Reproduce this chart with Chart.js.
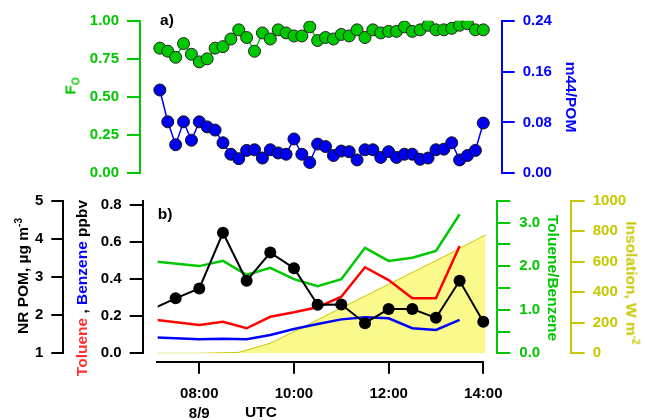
<!DOCTYPE html>
<html>
<head>
<meta charset="utf-8">
<script src="https://cdn.jsdelivr.net/npm/chart.js@4/dist/chart.umd.min.js"></script>
<style>
  body { margin: 0; background: #fff; }
  #wrap { position: relative; width: 645px; height: 420px; }
  #wrap canvas { position: absolute; left: 0; top: 0; }
  .lbl { position: absolute; white-space: nowrap; font-family: 'Liberation Sans', Arial, sans-serif; font-weight: bold; font-size: 15.5px; line-height: 1; }
  .lbl sup, .lbl sub { font-size: 10px; }
</style>
</head>
<body>
<div id="wrap">
  <canvas id="topChart" width="645" height="420"></canvas>
  <canvas id="bottomChart" width="645" height="420"></canvas>
  <canvas id="timeAxis" width="645" height="420"></canvas>

  <div class="lbl" style="left:167px;top:20px;transform:translate(-50%,-50%)">a)</div>
  <div class="lbl" style="left:165px;top:214px;transform:translate(-50%,-50%)">b)</div>
  <div class="lbl" style="left:261px;top:412px;transform:translate(-50%,-50%)">UTC</div>

  <div class="lbl" style="left:72px;top:86px;color:#00c800;transform:translate(-50%,-50%) rotate(-90deg)">F<sub>O</sub></div>
  <div class="lbl" style="left:571px;top:97px;color:#0000ff;transform:translate(-50%,-50%) rotate(90deg)">m44/POM</div>
  <div class="lbl" style="left:22px;top:276px;transform:translate(-50%,-50%) rotate(-90deg)">NR POM, &micro;g m<sup>-3</sup></div>
  <div class="lbl" style="left:82px;top:288px;transform:translate(-50%,-50%) rotate(-90deg)"><span style="color:#ff3030">Toluene</span> , <span style="color:#0000ff">Benzene</span> ppbv</div>
  <div class="lbl" style="left:553px;top:278px;color:#00c800;transform:translate(-50%,-50%) rotate(90deg)">Toluene/Benzene</div>
  <div class="lbl" style="left:632px;top:283px;color:#c8c800;transform:translate(-50%,-50%) rotate(90deg)">Insolation, W m<sup>-2</sup></div>
</div>

<script>
// ---- panel a) : 10 min data
var foTimes = ["07:10","07:20","07:30","07:40","07:50","08:00","08:10","08:20","08:30","08:40","08:50",
               "09:00","09:10","09:20","09:30","09:40","09:50","10:00","10:10","10:20","10:30","10:40","10:50",
               "11:00","11:10","11:20","11:30","11:40","11:50","12:00","12:10","12:20","12:30","12:40","12:50",
               "13:00","13:10","13:20","13:30","13:40","13:50","14:00"];
var foValues = [0.82,0.80,0.76,0.85,0.78,0.73,0.75,0.82,0.83,0.88,0.94,0.89,0.80,0.92,0.88,0.94,0.92,0.90,0.90,0.96,0.87,
                0.89,0.88,0.91,0.90,0.94,0.89,0.94,0.92,0.93,0.93,0.96,0.93,0.94,0.97,0.94,0.94,0.95,0.97,0.98,0.94,0.94];
var m44Values = [0.131,0.081,0.045,0.081,0.052,0.081,0.073,0.068,0.048,0.030,0.023,0.036,0.037,0.024,0.037,0.032,0.030,
                 0.054,0.030,0.017,0.046,0.042,0.028,0.035,0.034,0.021,0.037,0.037,0.025,0.034,0.025,0.030,0.030,0.022,
                 0.024,0.037,0.038,0.048,0.021,0.028,0.036,0.079];

// ---- panel b)
var pomTimes = ["07:00","07:30","08:00","08:30","09:00","09:30","10:00","10:30","11:00","11:30","12:00","12:30","13:00","13:30","14:00"];
var pomValues = [2.16,2.44,2.70,4.16,2.90,3.64,3.23,2.27,2.28,1.79,2.16,2.16,1.93,2.90,1.83];

var vocTimes = ["07:00","08:00","08:30","09:00","09:30","10:00","10:30","11:00","11:30","12:00","12:30","13:00","13:30"];
var toluene = [0.183,0.153,0.170,0.135,0.197,0.221,0.248,0.305,0.464,0.395,0.297,0.297,0.579];
var benzene = [0.087,0.076,0.079,0.076,0.099,0.131,0.158,0.183,0.194,0.189,0.135,0.126,0.180];
var tolBenz = [2.11,2.00,2.12,1.80,1.96,1.70,1.54,1.70,2.42,2.12,2.19,2.35,3.19];

var insTimes = ["07:07","08:00","08:50","09:30","10:00","11:00","12:00","13:00","14:03"];
var insValues = [0,0,6,66,142,297,452,607,776];

var timeTicks = [8, 10, 12, 14];

var GREEN = '#00c800', BLUE = '#0000ff', YELLOW = '#c8c800';

Chart.defaults.font.family = "'Liberation Sans', Arial, sans-serif";
Chart.defaults.font.size = 15;
Chart.defaults.font.weight = 'bold';
Chart.defaults.color = '#000';

function hr(s) {
     var p = s.split(':');
     return +p[0] + p[1] / 60;
}
function pts(times, vals) {
     return times.map(function(t, i){ return {x: hr(t), y: vals[i]}; });
}
function yAxis(pos, color, min, max, step, fmt, width, tick, pad) {
     return {
          position: pos, min: min, max: max,
          ticks: {stepSize: step, color: color, padding: pad, includeBounds: false,
                  callback: fmt},
          grid: {drawOnChartArea: false, color: color, lineWidth: 2, tickLength: tick},
          border: {color: color, width: 2},
          afterFit: function(s){ s.width = width; }
     };
}
var noPlugins = {legend: {display: false}, tooltip: {enabled: false}};
var edgeClip = {left: -15, top: false, right: false, bottom: false};

// top panel
new Chart(document.getElementById('topChart'), {
     type: 'line',
     data: {
          datasets: [
               {
                    data: pts(foTimes, foValues), yAxisID: 'yFo',
                    borderColor: GREEN, borderWidth: 1.5,
                    pointRadius: 6, pointBackgroundColor: GREEN, pointBorderColor: '#222', pointBorderWidth: 1
               },
               {
                    data: pts(foTimes, m44Values), yAxisID: 'yM44',
                    borderColor: BLUE, borderWidth: 1.5,
                    pointRadius: 6, pointBackgroundColor: '#0000f0', pointBorderColor: '#111', pointBorderWidth: 1
               }
          ]
     },
     options: {
          responsive: false, animation: false, devicePixelRatio: 1,
          layout: {padding: {top: 20.7, bottom: 420 - 173.3, left: 0, right: 0}},
          plugins: noPlugins,
          scales: {
               x: {type: 'linear', display: false, min: 6.747, max: 14.389},
               yFo: yAxis('left', GREEN, 0, 1, 0.25, function(v){ return v.toFixed(2); }, 140, 13, 8),
               yM44: yAxis('right', BLUE, 0, 0.24, 0.08, function(v){ return v.toFixed(2); }, 645 - 501.7, 13, 8)
          }
     }
});

// bottom panel
new Chart(document.getElementById('bottomChart'), {
     type: 'line',
     data: {
          datasets: [
               {
                    data: pts(pomTimes, pomValues), yAxisID: 'yPom', clip: edgeClip,
                    borderColor: '#000', borderWidth: 2,
                    pointRadius: pomValues.map(function(v, i){ return i === 0 ? 0 : 6; }),
                    pointBackgroundColor: '#000', pointBorderWidth: 0
               },
               {
                    data: pts(vocTimes, tolBenz), yAxisID: 'yTB', clip: edgeClip,
                    borderColor: GREEN, borderWidth: 2.5, pointRadius: 0
               },
               {
                    data: pts(vocTimes, toluene), yAxisID: 'yTol', clip: edgeClip,
                    borderColor: '#ff0000', borderWidth: 2.5, pointRadius: 0
               },
               {
                    data: pts(vocTimes, benzene), yAxisID: 'yTol', clip: edgeClip,
                    borderColor: BLUE, borderWidth: 2.5, pointRadius: 0
               },
               {
                    data: pts(insTimes, insValues), yAxisID: 'yIns',
                    borderColor: YELLOW, borderWidth: 1, pointRadius: 0,
                    fill: 'origin', backgroundColor: '#fafa8c'
               }
          ]
     },
     options: {
          responsive: false, animation: false, devicePixelRatio: 1,
          layout: {padding: {top: 200.7, bottom: 420 - 353.3, left: 0, right: 0}},
          plugins: noPlugins,
          scales: {
               x: {type: 'linear', display: false, min: 6.804, max: 14.296},
               yTol: yAxis('left', '#000', 0, 0.823, 0.2, function(v){ return v.toFixed(1); }, 142.7 - 63.3, 13, 8),
               yPom: yAxis('left', '#000', 1, 5, 1, function(v){ return v; }, 63.3, 12, 8),
               yTB: yAxis('right', GREEN, 0, 3.5, 0.5, function(v){ return v % 1 === 0 ? v.toFixed(1) : ''; }, 570.7 - 497.3, 13, 9),
               yIns: yAxis('right', YELLOW, 0, 1000, 200, function(v){ return v; }, 645 - 570.7, 14, 8)
          }
     }
});

// shared time axis under panel b)
new Chart(document.getElementById('timeAxis'), {
     type: 'line',
     data: {datasets: []},
     options: {
          responsive: false, animation: false, devicePixelRatio: 1,
          layout: {padding: {top: 300, bottom: 0, left: 157.3, right: 645 - 483.3}},
          plugins: noPlugins,
          scales: {
               x: {
                    type: 'linear', position: 'bottom', min: 7.113, max: 14,
                    afterBuildTicks: function(s){ s.ticks = timeTicks.map(function(v){ return {value: v}; }); },
                    ticks: {
                         padding: 10, font: {lineHeight: 1.35},
                         callback: function(v){
                              var s = (v < 10 ? '0' : '') + v + ':00';
                              return v === 8 ? [s, '8/9'] : s;
                         }
                    },
                    grid: {drawOnChartArea: false, color: '#000', lineWidth: 2, tickLength: 12},
                    border: {color: '#000', width: 2},
                    afterFit: function(s){ s.height = 420 - 361.7; }
               },
               y: {display: false, min: 0, max: 1}
          }
     }
});
</script>
</body>
</html>
